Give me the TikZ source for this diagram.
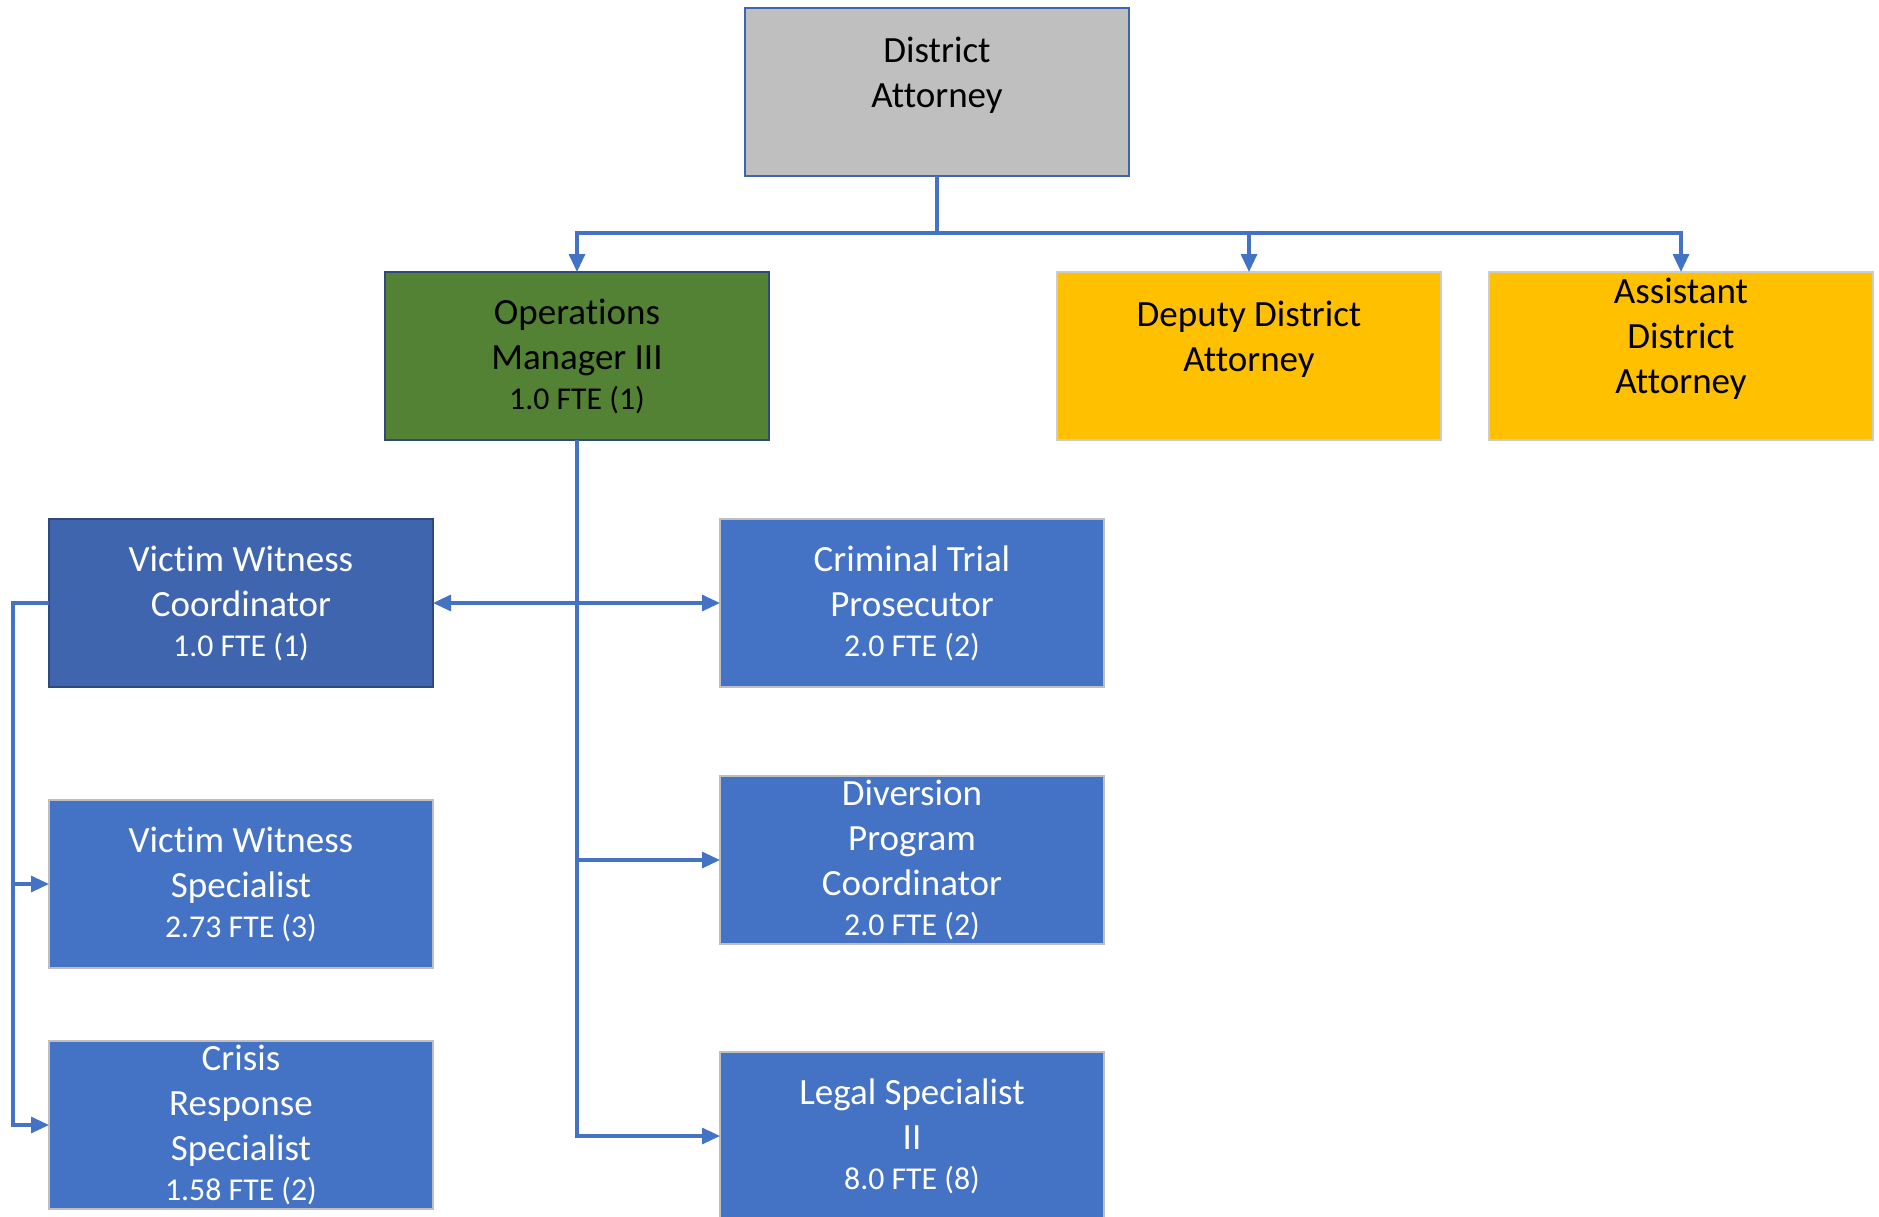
\documentclass[tikz,border=0pt]{standalone}
\usepackage{fontspec}
\setmainfont{Carlito}[Ligatures=NoCommon]
\usetikzlibrary{positioning,arrows.meta}

\definecolor{daGray}{HTML}{BFBFBF}
\definecolor{opsGreen}{HTML}{548235}
\definecolor{leadYellow}{HTML}{FFC000}
\definecolor{staffBlue}{HTML}{4472C4}
\definecolor{coordBlue}{HTML}{3F65AE}
\definecolor{edgeBlue}{HTML}{3F65B0}
\definecolor{edgeNavy}{HTML}{2F4A7A}
\newcommand{\fte}{\fontsize{15.9}{20}\selectfont}

\begin{document}
\begin{tikzpicture}[
    box/.style={rectangle, minimum width=192pt, minimum height=84pt, inner sep=0pt, outer sep=0pt,
        align=center, font=\fontsize{18.5}{22.5}\selectfont, line width=1pt},
    topbox/.style={box, fill=daGray, draw=edgeBlue, line width=1.3pt},
    opsbox/.style={box, fill=opsGreen, draw=edgeNavy, line width=1.3pt},
    leadbox/.style={box, fill=leadYellow, draw=black!20},
    staffbox/.style={box, fill=staffBlue, draw=black!25, text=white},
    coordbox/.style={box, fill=coordBlue, draw=edgeNavy, line width=1.3pt, text=white},
    conn/.style={draw=staffBlue, line width=1.6pt, -{Triangle[length=9pt,width=8pt]}}
]
    \useasboundingbox (0,0) rectangle (939.5pt,-608pt);

    \node[topbox] (da) at (468.5pt,-46pt) {District\\Attorney\\[-2.5pt]\mbox{}};
    \node[opsbox, below=48pt of da, xshift=-180pt] (ops) {Operations\\Manager III\\[-2.5pt]\fte 1.0 FTE (1)};
    \node[leadbox, right=144pt of ops] (dda) {Deputy District\\Attorney\\[-2.5pt]\mbox{}};
    \node[leadbox, right=24pt of dda] (ada) {Assistant\\District\\Attorney\\[-2.5pt]\mbox{}};

    \node[staffbox, below=39.5pt of ops, xshift=167.5pt] (ctp) {Criminal Trial\\Prosecutor\\[-2.5pt]\fte 2.0 FTE (2)};
    \node[coordbox, left=143.5pt of ctp] (vwc) {Victim Witness\\Coordinator\\[-2.5pt]\fte 1.0 FTE (1)};
    \node[staffbox, below=44.5pt of ctp] (dpc) {Diversion\\Program\\Coordinator\\[-2.5pt]\fte 2.0 FTE (2)};
    \node[staffbox, below=54pt of dpc] (ls) {Legal Specialist\\II\\[-2.5pt]\fte 8.0 FTE (8)};
    \node[staffbox, below=56.5pt of vwc] (vws) {Victim Witness\\Specialist\\[-2.5pt]\fte 2.73 FTE (3)};
    \node[staffbox, below=36.5pt of vws] (crs) {Crisis\\Response\\Specialist\\[-2.5pt]\fte 1.58 FTE (2)};

    \draw[conn] (da.south) -- ++(0,-28.5pt) -| (ops.north);
    \draw[conn] (da.south) -- ++(0,-28.5pt) -| (dda.north);
    \draw[conn] (da.south) -- ++(0,-28.5pt) -| (ada.north);

    \draw[conn] (ops.south) |- (dpc.west);
    \draw[conn] (ops.south) |- (ls.west);
    \draw[conn, {Triangle[length=9pt,width=8pt]}-{Triangle[length=9pt,width=8pt]}] (vwc.east) -- (ctp.west);

    \draw[conn] (vwc.west) -- ++(-18pt,0) |- (vws.west);
    \draw[conn] (vwc.west) -- ++(-18pt,0) |- (crs.west);
\end{tikzpicture}
\end{document}
